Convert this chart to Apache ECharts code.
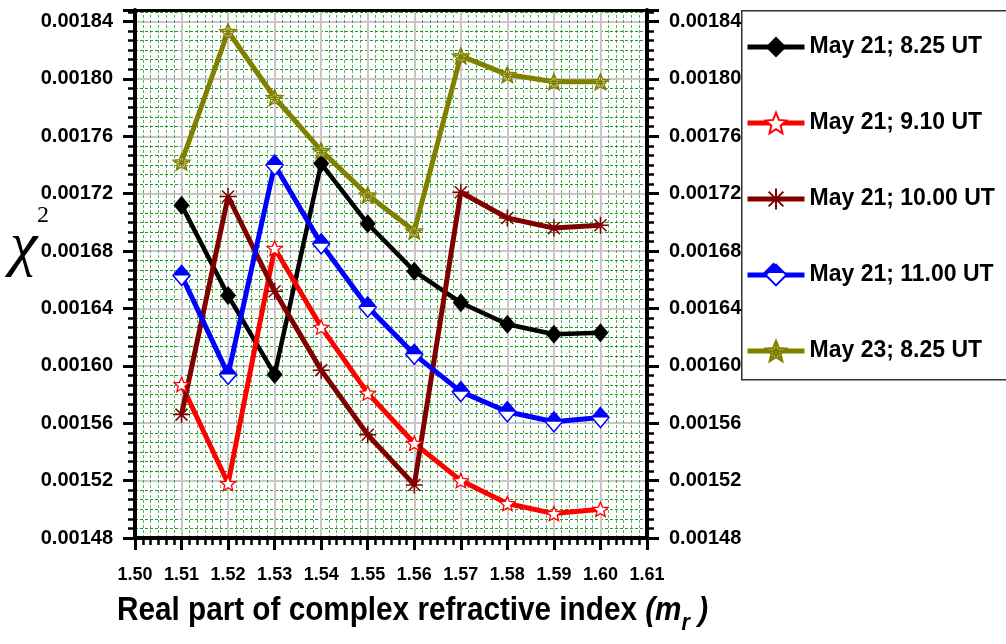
<!DOCTYPE html>
<html><head><meta charset="utf-8">
<script src="https://cdn.jsdelivr.net/npm/echarts@6/dist/echarts.min.js"></script>
<style>html,body{margin:0;padding:0;background:#fff}#c{width:1006px;height:644px}</style>
</head><body><div id="c"></div><script>
// ---- data ----
const xValues = [1.51, 1.52, 1.53, 1.54, 1.55, 1.56, 1.57, 1.58, 1.59, 1.60];
const seriesNames = ['May 21; 8.25 UT', 'May 21; 9.10 UT', 'May 21; 10.00 UT', 'May 21; 11.00 UT', 'May 23; 8.25 UT'];
const may21_0825 = [0.001712, 0.001649, 0.001594, 0.001741, 0.001699, 0.001666, 0.001644, 0.001629, 0.001622, 0.001623];
const may21_0910 = [0.001587, 0.001518, 0.001682, 0.001627, 0.001581, 0.001546, 0.001520, 0.001504, 0.001497, 0.001500];
const may21_1000 = [0.001566, 0.001718, 0.001652, 0.001597, 0.001552, 0.001517, 0.001721, 0.001703, 0.001696, 0.001698];
const may21_1100 = [0.001663, 0.001594, 0.001740, 0.001685, 0.001641, 0.001608, 0.001582, 0.001568, 0.001561, 0.001564];
const may23_0825 = [0.001742, 0.001833, 0.001787, 0.001750, 0.001719, 0.001694, 0.001816, 0.001803, 0.001798, 0.001798];
const xAxisTitle = 'Real part of complex refractive index';

const pairs = v => xValues.map((x, i) => [x, v[i]]);

const STAR = 'path://M0,-10L2.65,-3.64L9.51,-3.09L4.28,1.39L5.88,8.09L0,4.5L-5.88,8.09L-4.28,1.39L-9.51,-3.09L-2.65,-3.64Z';
const ASTER = 'path://M0,-10L0,10M-10,0L10,0M-7.07,-7.07L7.07,7.07M-7.07,7.07L7.07,-7.07';
const STARASTER = 'path://M0,-10L2.65,-3.64L9.51,-3.09L4.28,1.39L5.88,8.09L0,4.5L-5.88,8.09L-4.28,1.39L-9.51,-3.09L-2.65,-3.64ZM0,-10L0,4.5M-9.51,-3.09L4.28,1.39M-5.88,8.09L2.65,-3.64M5.88,8.09L-2.65,-3.64M9.51,-3.09L-4.28,1.39';
const TRI_TOP = 'path://M0,-11L9,0L-9,0Z';

const SANS = '"Liberation Sans",Arial,sans-serif';

const chart = echarts.init(document.getElementById('c'), null, {renderer: 'canvas'});

function yAxisCfg(pos) {
  return {
    type: 'value', position: pos, min: 0.00148, max: 0.001848, interval: 0.00004,
    axisLine: {show: true, onZero: false, lineStyle: {color: '#000', width: 4}},
    axisTick: {show: true, inside: false, length: 12, lineStyle: {color: '#000', width: 3}},
    minorTick: {show: true, splitNumber: 6, length: 7, lineStyle: {color: '#000', width: 2.5}},
    axisLabel: {show: true, showMaxLabel: false, margin: 22, formatter: v => v.toFixed(5),
      fontFamily: SANS, fontWeight: 'bold', fontSize: 20, color: '#000'},
    splitLine: {show: pos === 'left', lineStyle: {color: '#c8c8c8', width: 2}},
    minorSplitLine: {show: pos === 'left', lineStyle: {color: '#1f9a1f', width: 1, type: [3, 2]}}
  };
}

const option = {
  backgroundColor: '#fff',
  animation: false,
  grid: {left: 135, right: 359, top: 10, bottom: 106, containLabel: false},
  xAxis: [{
    type: 'value', position: 'bottom', min: 1.50, max: 1.61, interval: 0.01,
    axisLine: {show: true, onZero: false, lineStyle: {color: '#000', width: 4}},
    axisTick: {show: true, inside: false, length: 12, lineStyle: {color: '#000', width: 3}},
    minorTick: {show: true, splitNumber: 6, length: 7, lineStyle: {color: '#000', width: 2.5}},
    axisLabel: {margin: 28, formatter: v => v.toFixed(2), fontFamily: SANS, fontWeight: 'bold', fontSize: 18, color: '#000'},
    splitLine: {show: true, lineStyle: {color: '#c8c8c8', width: 2}},
    minorSplitLine: {show: true, lineStyle: {color: 'rgba(31,154,31,0.75)', width: 1, type: [3, 2]}}
  }, {
    type: 'value', position: 'top', min: 1.50, max: 1.61,
    axisLine: {show: true, onZero: false, lineStyle: {color: '#000', width: 3}},
    axisTick: {show: false}, axisLabel: {show: false}, splitLine: {show: false}
  }],
  yAxis: [yAxisCfg('left'), yAxisCfg('right')],
  legend: {
    orient: 'vertical', left: 740, top: 27, itemWidth: 57, itemHeight: 26, itemGap: 46,
    data: seriesNames,
    lineStyle: {width: 5},
    textStyle: {fontFamily: SANS, fontWeight: 'bold', fontSize: 23, lineHeight: 30, color: '#000'}
  },
  series: [
    {name: seriesNames[0], type: 'line', data: pairs(may21_0825), symbol: 'diamond', symbolSize: [16, 19],
      lineStyle: {color: '#000', width: 4.5}, itemStyle: {color: '#000', borderColor: '#000', borderWidth: 0}, z: 3},
    {name: seriesNames[1], type: 'line', data: pairs(may21_0910), symbol: STAR, symbolSize: 15, symbolKeepAspect: true,
      lineStyle: {color: '#ff0000', width: 5}, itemStyle: {color: '#fff', borderColor: '#ff0000', borderWidth: 1.3}, z: 3},
    {name: seriesNames[2], type: 'line', data: pairs(may21_1000), symbol: ASTER, symbolSize: 17,
      lineStyle: {color: '#800000', width: 5}, itemStyle: {color: '#800000', borderColor: '#800000', borderWidth: 1.5}, z: 3},
    {name: seriesNames[3], type: 'line', data: pairs(may21_1100), symbol: 'diamond', symbolSize: [17, 20],
      lineStyle: {color: '#0000ff', width: 5}, itemStyle: {color: '#fff', borderColor: '#0000ff', borderWidth: 1.5}, z: 3},
    {name: '_blueTop', type: 'line', data: pairs(may21_1100), symbol: TRI_TOP, symbolSize: [17, 10], symbolOffset: [0, -5],
      lineStyle: {width: 0, opacity: 0}, itemStyle: {color: '#0000ff', borderWidth: 0}, silent: true, z: 4},
    {name: seriesNames[4], type: 'line', data: pairs(may23_0825), symbol: STARASTER, symbolSize: 17, symbolKeepAspect: true,
      lineStyle: {color: '#808000', width: 5}, itemStyle: {color: 'rgba(255,255,255,0.6)', borderColor: '#808000', borderWidth: 1.3}, z: 3}
  ],
  graphic: [
    {type: 'rect', left: 741, top: 10, z: -1, shape: {width: 300, height: 369}, style: {fill: '#fff', stroke: '#333', lineWidth: 1.5}},
    {type: 'polygon', z: 100, shape: {points: [[773.5, 262.6], [783.9, 273], [763.1, 273]]}, style: {fill: '#0000ff'}},
    {type: 'text', x: 10, y: 248, style: {text: 'χ', font: 'italic 62px "Liberation Serif", serif', fill: '#000', verticalAlign: 'middle'}},
    {type: 'text', x: 37, y: 216, style: {text: '2', font: '24px "Liberation Serif", serif', fill: '#000', verticalAlign: 'middle'}},
    {type: 'text', x: 117, y: 611, scaleX: 0.9, style: {
      rich: {
        a: {font: 'bold 33px ' + SANS, fill: '#000'},
        i: {font: 'italic bold 33px ' + SANS, fill: '#000'},
        s: {font: 'italic bold 24px ' + SANS, fill: '#000', padding: [24, 0, 0, 0]}
      },
      verticalAlign: 'middle',
      text: '{a|' + xAxisTitle + ' }{i|(m}{s|r}{i| )}'
    }}
  ]
};
chart.setOption(option);
</script></body></html>
